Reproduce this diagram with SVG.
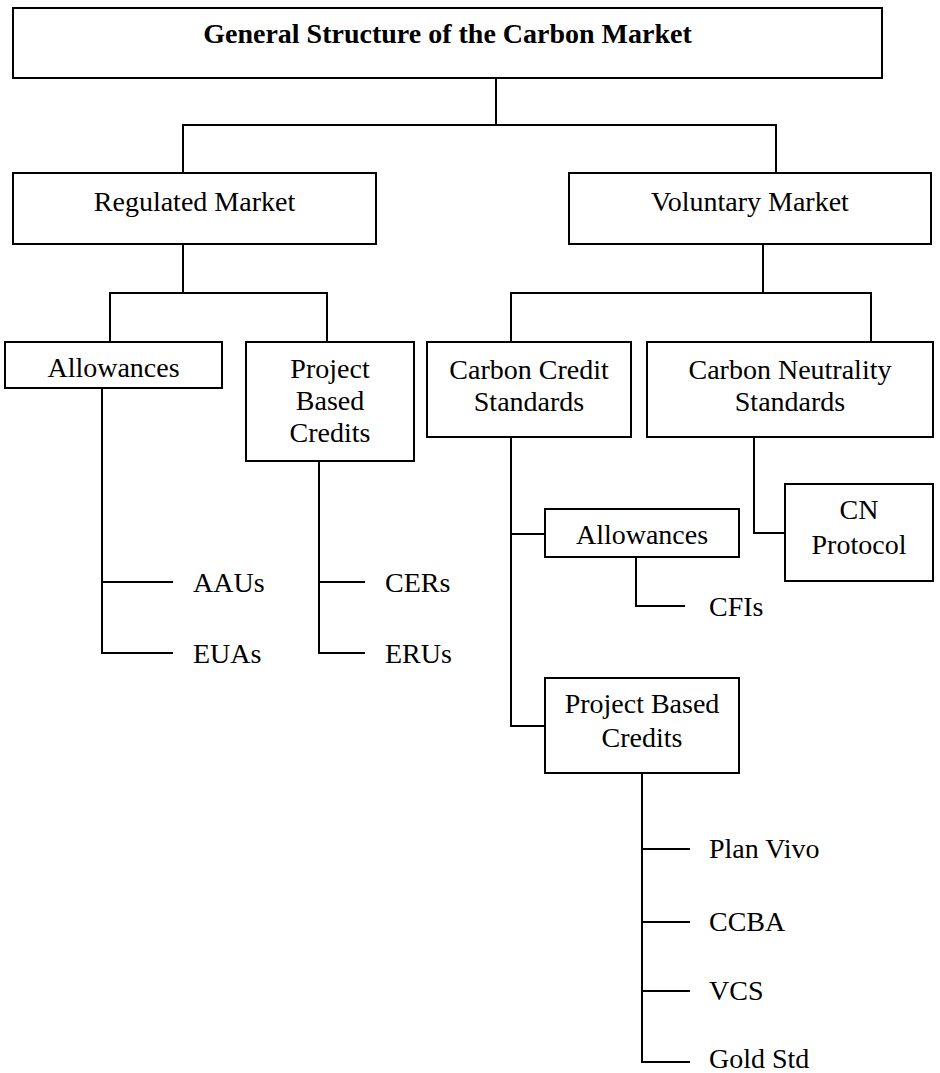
<svg xmlns="http://www.w3.org/2000/svg" width="940" height="1073" viewBox="0 0 940 1073">
<style>
.box{fill:#fff;stroke:#000;stroke-width:2}
.ln{fill:none;stroke:#000;stroke-width:2}
text{font-family:"Liberation Serif","Times New Roman",serif;font-size:28px;fill:#000}
.c{text-anchor:middle}
.t{font-weight:bold}
</style>
<rect width="940" height="1073" fill="#fff"/>
<g id="connectors">
<path class="ln" d="M496 78V125M183 173V125H776V173"/>
<path class="ln" d="M183 244V293M110 342V293H327V342"/>
<path class="ln" d="M763 244V293M511 342V293H871V342"/>
<path class="ln" d="M102 388V653H173M102 582H173"/>
<path class="ln" d="M319 461V653H365M319 582H365"/>
<path class="ln" d="M511 437V726H545M511 534H545"/>
<path class="ln" d="M754 437V533H785"/>
<path class="ln" d="M636 557V606H685"/>
<path class="ln" d="M642 773V1062H690M642 849H690M642 922H690M642 991H690"/>
</g>
<g id="n-title"><rect class="box" x="13" y="8" width="869" height="70"/><text class="c t" x="447.5" y="43">General Structure of the Carbon Market</text></g>
<g id="n-regulated"><rect class="box" x="13" y="173" width="363" height="71"/><text class="c" x="194.5" y="211">Regulated Market</text></g>
<g id="n-voluntary"><rect class="box" x="569" y="173" width="362" height="71"/><text class="c" x="750" y="211">Voluntary Market</text></g>
<g id="n-allow1"><rect class="box" x="5" y="342" width="217" height="46"/><text class="c" x="113.5" y="377">Allowances</text></g>
<g id="n-pbc1"><rect class="box" x="246" y="342" width="168" height="119"/><text class="c" x="330" y="378">Project</text><text class="c" x="330" y="410">Based</text><text class="c" x="330" y="442">Credits</text></g>
<g id="n-ccs"><rect class="box" x="427" y="342" width="204" height="95"/><text class="c" x="529" y="379">Carbon Credit</text><text class="c" x="529" y="411">Standards</text></g>
<g id="n-cns"><rect class="box" x="647" y="342" width="286" height="95"/><text class="c" x="790" y="379">Carbon Neutrality</text><text class="c" x="790" y="411">Standards</text></g>
<g id="n-allow2"><rect class="box" x="545" y="509" width="194" height="48"/><text class="c" x="642" y="544">Allowances</text></g>
<g id="n-cn"><rect class="box" x="785" y="484" width="148" height="97"/><text class="c" x="859" y="519">CN</text><text class="c" x="859" y="554">Protocol</text></g>
<g id="n-pbc2"><rect class="box" x="545" y="678" width="194" height="95"/><text class="c" x="642" y="713">Project Based</text><text class="c" x="642" y="747">Credits</text></g>
<g id="n-aaus"><text x="193" y="592">AAUs</text></g>
<g id="n-euas"><text x="193" y="663">EUAs</text></g>
<g id="n-cers"><text x="385" y="592">CERs</text></g>
<g id="n-erus"><text x="385" y="663">ERUs</text></g>
<g id="n-cfis"><text x="709" y="616">CFIs</text></g>
<g id="n-planvivo"><text x="709" y="858">Plan Vivo</text></g>
<g id="n-ccba"><text x="709" y="931">CCBA</text></g>
<g id="n-vcs"><text x="709" y="1000">VCS</text></g>
<g id="n-gold"><text x="709" y="1068">Gold Std</text></g>
</svg>
